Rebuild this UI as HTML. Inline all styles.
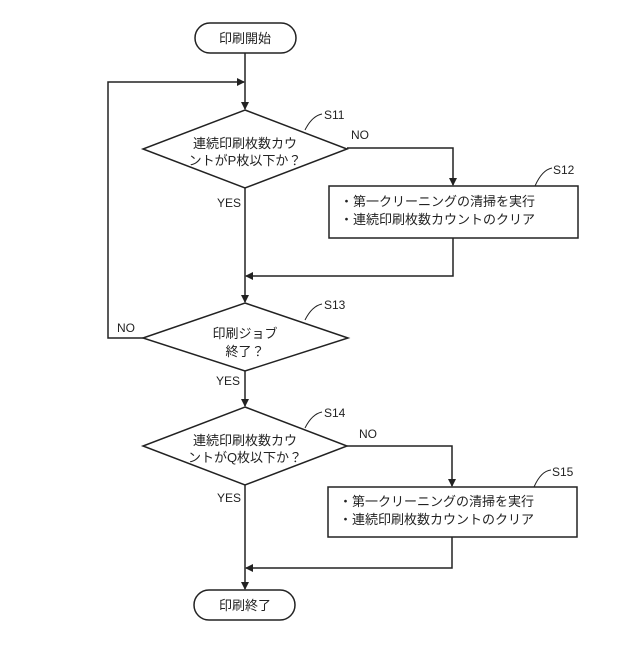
<!DOCTYPE html>
<html><head><meta charset="utf-8"><style>
body{margin:0;background:#fff}
text{font-family:"Liberation Sans","Noto Sans CJK JP",sans-serif;fill:#222}
</style></head><body>
<svg width="640" height="640" viewBox="0 0 640 640" xmlns="http://www.w3.org/2000/svg">
<defs><marker id="a" markerWidth="8" markerHeight="8" refX="7" refY="4" orient="auto" markerUnits="userSpaceOnUse"><path d="M0,0 L8,4 L0,8 z" fill="#222"/></marker></defs>
<g stroke="#222" stroke-width="1.5" fill="none">
<rect x="195" y="23" width="101" height="30" rx="15"/>
<rect x="194" y="590" width="101" height="30" rx="15"/>
<line x1="245" y1="53" x2="245" y2="109" marker-end="url(#a)"/>
<polyline points="143,338 108,338 108,82 244,82" marker-end="url(#a)"/>
<polygon points="245,110 347,149 245,188 143,149"/>
<polyline points="347,148 453,148 453,185" marker-end="url(#a)"/>
<rect x="329" y="186" width="249" height="52"/>
<polyline points="453,238 453,276 246,276" marker-end="url(#a)"/>
<line x1="245" y1="188" x2="245" y2="302" marker-end="url(#a)"/>
<polygon points="245,303 348,338 245,371 143,338"/>
<line x1="245" y1="371" x2="245" y2="406" marker-end="url(#a)"/>
<polygon points="245,407 347,446 245,485 143,446"/>
<polyline points="347,446 452,446 452,486" marker-end="url(#a)"/>
<rect x="328" y="487" width="249" height="50"/>
<polyline points="452,537 452,568 246,568" marker-end="url(#a)"/>
<line x1="245" y1="485" x2="245" y2="589" marker-end="url(#a)"/>
<path d="M305,130 Q312,116 322,114" stroke-width="1"/>
<path d="M535,186 Q542,170 552,168" stroke-width="1"/>
<path d="M305,320 Q312,306 322,304" stroke-width="1"/>
<path d="M305,428 Q312,414 322,412" stroke-width="1"/>
<path d="M534,487 Q541,471 551,470" stroke-width="1"/>
</g>
<g font-size="13">
<text x="245" y="43" text-anchor="middle">印刷開始</text>
<text x="245" y="610" text-anchor="middle">印刷終了</text>
<text x="245" y="148" text-anchor="middle">連続印刷枚数カウ</text>
<text x="245" y="165" text-anchor="middle">ントがP枚以下か？</text>
<text x="245" y="338" text-anchor="middle">印刷ジョブ</text>
<text x="245" y="356" text-anchor="middle">終了？</text>
<text x="245" y="445" text-anchor="middle">連続印刷枚数カウ</text>
<text x="245" y="462" text-anchor="middle">ントがQ枚以下か？</text>
<text x="340" y="206">・第一クリーニングの清掃を実行</text>
<text x="340" y="224">・連続印刷枚数カウントのクリア</text>
<text x="339" y="506">・第一クリーニングの清掃を実行</text>
<text x="339" y="524">・連続印刷枚数カウントのクリア</text>
</g>
<g font-size="12">
<text x="324" y="119">S11</text>
<text x="553" y="174">S12</text>
<text x="324" y="309">S13</text>
<text x="324" y="417">S14</text>
<text x="552" y="476">S15</text>
<text x="351" y="139">NO</text>
<text x="359" y="438">NO</text>
<text x="117" y="332">NO</text>
<text x="217" y="207">YES</text>
<text x="216" y="385">YES</text>
<text x="217" y="502">YES</text>
</g>
</svg>
</body></html>
